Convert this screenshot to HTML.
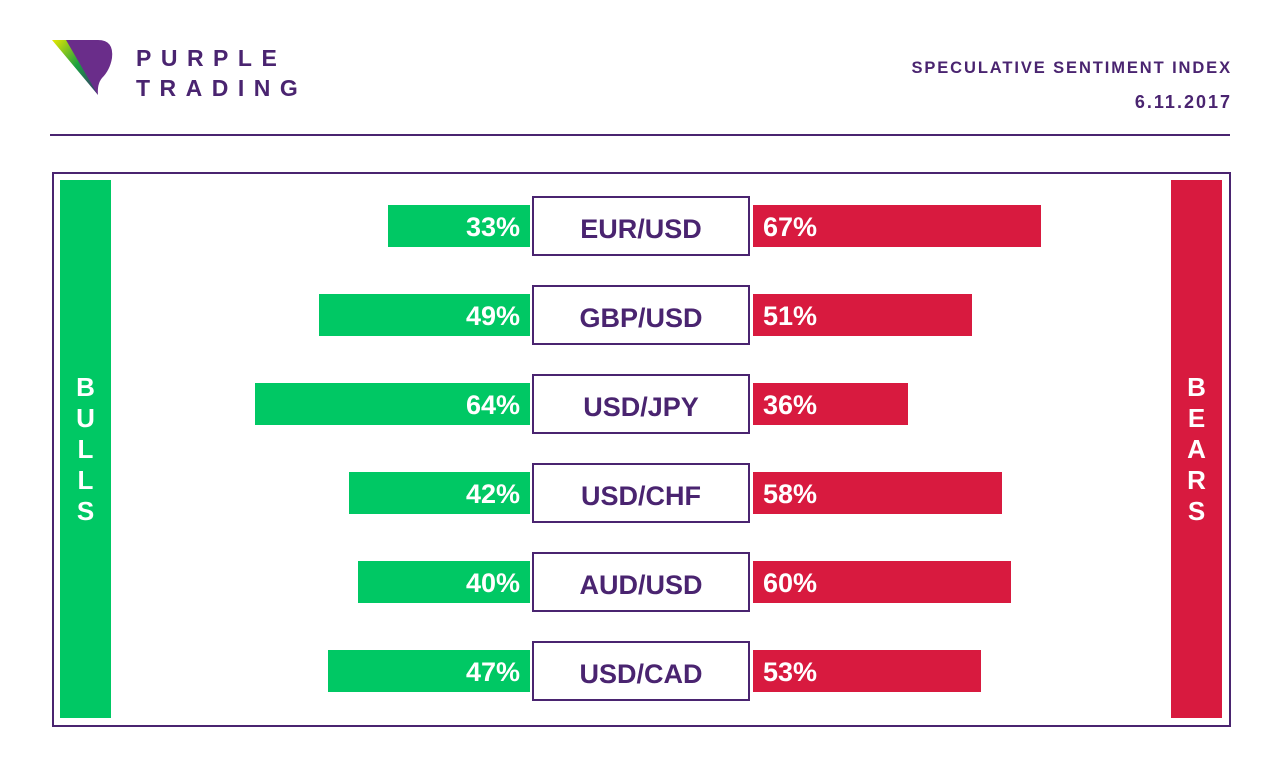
<!DOCTYPE html>
<html><head><meta charset="utf-8"><style>
body{margin:0;width:1280px;height:780px;background:#fff;font-family:"Liberation Sans",sans-serif;position:relative;overflow:hidden}
.abs{position:absolute}
.t{color:#4a2470;font-weight:bold}
</style></head><body>
<svg class="abs" style="left:52px;top:40px" width="64" height="56" viewBox="0 0 64 56">
<defs><linearGradient id="g" x1="0" y1="0" x2="1" y2="1"><stop offset="0" stop-color="#e8e800"/><stop offset="0.5" stop-color="#1aa040"/><stop offset="1" stop-color="#3a3070"/></linearGradient></defs>
<polygon points="0,0 22,0 46,55" fill="url(#g)"/>
<path d="M14,0 L46,0 Q62,0 60,18 Q58,30 50,38 Q45,44 46,55 Z" fill="#6a2d8a"/>
</svg>
<div class="abs t" style="left:136px;top:43px;font-size:23px;letter-spacing:9.5px;line-height:30px">PURPLE<br>TRADING</div>
<div class="abs t" style="right:48px;top:59px;font-size:16.5px;letter-spacing:1.9px">SPECULATIVE SENTIMENT INDEX</div>
<div class="abs t" style="right:48px;top:92px;font-size:18px;letter-spacing:2px">6.11.2017</div>
<div class="abs" style="left:50px;top:134px;width:1180px;height:2px;background:#4a2470"></div>
<div class="abs" style="left:52px;top:172px;width:1175px;height:551px;border:2px solid #4a2470"></div>
<div class="abs" style="left:60px;top:180px;width:51px;height:538px;background:#00c864;color:#fff;font-weight:bold;font-size:26px;display:flex;flex-direction:column;align-items:center;justify-content:center;line-height:31px"><span>B</span><span>U</span><span>L</span><span>L</span><span>S</span></div>
<div class="abs" style="left:1171px;top:180px;width:51px;height:538px;background:#d81a3f;color:#fff;font-weight:bold;font-size:26px;display:flex;flex-direction:column;align-items:center;justify-content:center;line-height:31px"><span>B</span><span>E</span><span>A</span><span>R</span><span>S</span></div>
<div id="rows"></div>
<script>
const pairs=["EUR/USD","GBP/USD","USD/JPY","USD/CHF","AUD/USD","USD/CAD"];
const bulls=[33,49,64,42,40,47];
const bears=[67,51,36,58,60,53];
const scale=v=>v*4.3;
const rowY=i=>205+i*89;
const root=document.getElementById('rows');
pairs.forEach((p,i)=>{
 const y=rowY(i);
 const g=document.createElement('div');
 
 
 const gw=scale(bulls[i]);
 g.style.cssText=`position:absolute;left:${530-gw}px;top:${y}px;width:${gw}px;height:42px;background:#00c864;color:#fff;font-weight:bold;font-size:27px;line-height:45px;text-align:right;box-sizing:border-box;padding-right:10px`;
 g.textContent=bulls[i]+'%';root.appendChild(g);
 const r=document.createElement('div');
 
 
 const rw=scale(bears[i]);
 r.style.cssText=`position:absolute;left:753px;top:${y}px;width:${rw}px;height:42px;background:#d81a3f;color:#fff;font-weight:bold;font-size:27px;line-height:45px;box-sizing:border-box;padding-left:10px`;
 r.textContent=bears[i]+'%';root.appendChild(r);
 const l=document.createElement('div');
 
 
 l.style.cssText=`position:absolute;left:532px;top:${y-9}px;width:214px;height:56px;border:2px solid #4a2470;background:#fff;color:#4a2470;font-weight:bold;font-size:27px;line-height:62px;text-align:center`;
 l.textContent=p;root.appendChild(l);
});
</script>
</body></html>
